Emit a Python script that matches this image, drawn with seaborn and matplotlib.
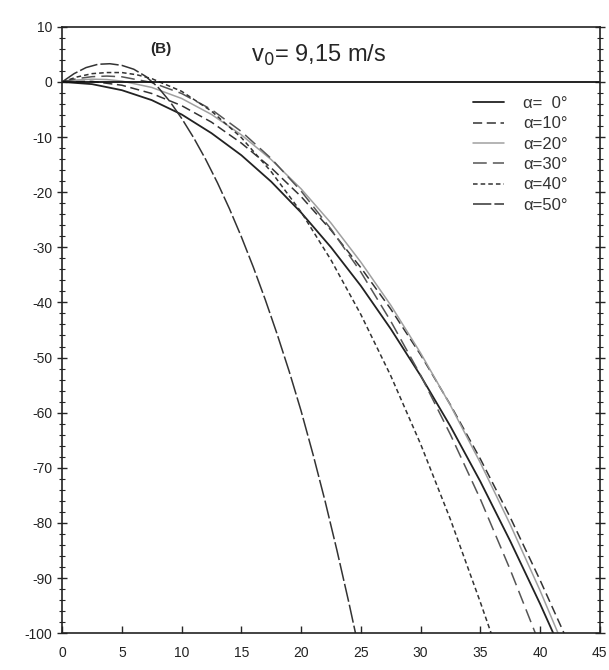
import numpy as np
import pandas as pd
import matplotlib
matplotlib.use("Agg")
import matplotlib.pyplot as plt
import seaborn as sns

# trajectories (x in m, y in m)
x_a0 = [0, 2.5, 5, 7.5, 10, 12.5, 15, 17.5, 20, 22.5, 25, 27.5, 30, 32.5, 35, 37.5, 40, 41.1]
y_a0 = [0, -0.4, -1.5, -3.3, -5.9, -9.3, -13.3, -18.1, -23.7, -30.0, -37.0, -44.8, -53.3,
        -62.5, -72.5, -83.3, -94.7, -100]

x_a10 = [0, 1.25, 2.5, 5, 7.5, 10, 12.5, 15, 17.5, 20, 22.5, 25, 27.5, 30, 32.5, 35, 37.5, 40, 42.0]
y_a10 = [0, 0.1, 0.1, -0.6, -2.1, -4.3, -7.3, -11.1, -15.6, -20.8, -26.9, -33.7, -41.2,
         -49.5, -58.6, -68.4, -79.0, -90.4, -100]

x_a20 = [0, 1.25, 2.5, 3.75, 5, 7.5, 10, 12.5, 15, 17.5, 20, 22.5, 25, 27.5, 30, 32.5, 35, 37.5, 40, 41.5]
y_a20 = [0, 0.35, 0.5, 0.43, 0.15, -1.0, -3.0, -5.9, -9.6, -14.1, -19.4, -25.6, -32.7,
         -40.5, -49.2, -58.7, -69.1, -80.3, -92.3, -100]

x_a30 = [0, 1.25, 2.5, 3.75, 5, 7.5, 10, 12.5, 15, 17.5, 20, 22.5, 25, 27.5, 30, 32.5, 35, 37.5, 39.6]
y_a30 = [0, 0.6, 0.95, 1.06, 0.93, -0.1, -2.1, -5.0, -9.0, -13.9, -19.8, -26.7, -34.5,
         -43.4, -53.2, -64.0, -75.7, -88.5, -100]

x_a40 = [0, 1.25, 2.5, 3.75, 5, 6.25, 7.5, 10, 12.5, 15, 17.5, 20, 22.5, 25, 27.5, 30, 32.5, 35, 35.9]
y_a40 = [0, 0.9, 1.5, 1.7, 1.7, 1.3, 0.6, -1.7, -5.3, -10.1, -16.3, -23.6, -32.3, -42.2,
         -53.3, -65.7, -79.4, -94.4, -100]

x_a50 = [0, 1, 2, 3, 4, 5, 6, 7, 8, 9, 10, 11, 12, 13, 14, 15, 16, 17, 18, 19, 20, 21, 22, 23, 24, 24.55]
y_a50 = [0, 1.5, 2.6, 3.2, 3.3, 3.0, 2.3, 1.0, -0.9, -3.5, -6.6, -10.1, -14.0, -18.3, -23.0,
         -28.1, -33.6, -39.5, -45.8, -52.5, -59.7, -67.6, -76.0, -85.0, -94.5, -100]

labels = ["α=  0°", "α=10°", "α=20°", "α=30°", "α=40°", "α=50°"]
curves = [(x_a0, y_a0), (x_a10, y_a10), (x_a20, y_a20),
          (x_a30, y_a30), (x_a40, y_a40), (x_a50, y_a50)]

styles = [
    dict(color="#222222", lw=1.3, linestyle="-"),
    dict(color="#333333", lw=1.1, linestyle=(0, (6, 3))),
    dict(color="#a0a0a0", lw=1.1, linestyle="-"),
    dict(color="#555555", lw=1.1, linestyle=(0, (9, 4))),
    dict(color="#333333", lw=1.1, linestyle=(0, (3, 2))),
    dict(color="#333333", lw=1.1, linestyle=(0, (12, 2))),
]

sns.set_style("ticks")
plt.rcParams["font.family"] = ["Liberation Sans", "DejaVu Sans"]
plt.rcParams["axes.unicode_minus"] = False

fig = plt.figure(figsize=(6.09, 6.70), dpi=100)
ax = fig.add_axes([0.102, 0.055, 0.883, 0.905])

for (xs, ys), lab, st in zip(curves, labels, styles):
    df = pd.DataFrame({"x": xs, "y": ys})
    sns.lineplot(data=df, x="x", y="y", ax=ax, label=lab, errorbar=None, **st)

ax.axhline(0, color="#111111", lw=1.3)

ax.set_xlim(0, 45)
ax.set_ylim(-100, 10)
ax.set_xticks(np.arange(0, 46, 5))
ax.set_yticks(np.arange(-100, 11, 10))
ax.set_yticks(np.arange(-100, 11, 2), minor=True)
ax.set_xlabel("")
ax.set_ylabel("")

for side in ["left", "right", "top", "bottom"]:
    ax.spines[side].set_visible(True)
    ax.spines[side].set_linewidth(1.2)
    ax.spines[side].set_color("#222222")

ax.tick_params(axis="y", which="major", direction="inout", length=7, width=1,
               right=True, labelsize=10, labelcolor="#222222")
ax.tick_params(axis="y", which="minor", direction="inout", length=4, width=0.8, right=True)
ax.tick_params(axis="x", which="major", direction="in", length=5, width=1,
               labelsize=10, labelcolor="#222222", pad=9)

ax.text(7.4, 6.0, "(B)", fontsize=11, fontweight="bold", ha="left", va="center")
ax.text(15.8, 3.6, "v$_0$= 9,15 m/s", fontsize=17, ha="left", va="baseline")

leg = ax.legend(loc="upper left", bbox_to_anchor=(0.742, 0.905), frameon=False,
                fontsize=12, handlelength=1.9, labelspacing=0.32, handletextpad=1.1,
                borderpad=0.2)
for t in leg.get_texts():
    t.set_color("#333333")

fig.savefig("out.png", dpi=100)
